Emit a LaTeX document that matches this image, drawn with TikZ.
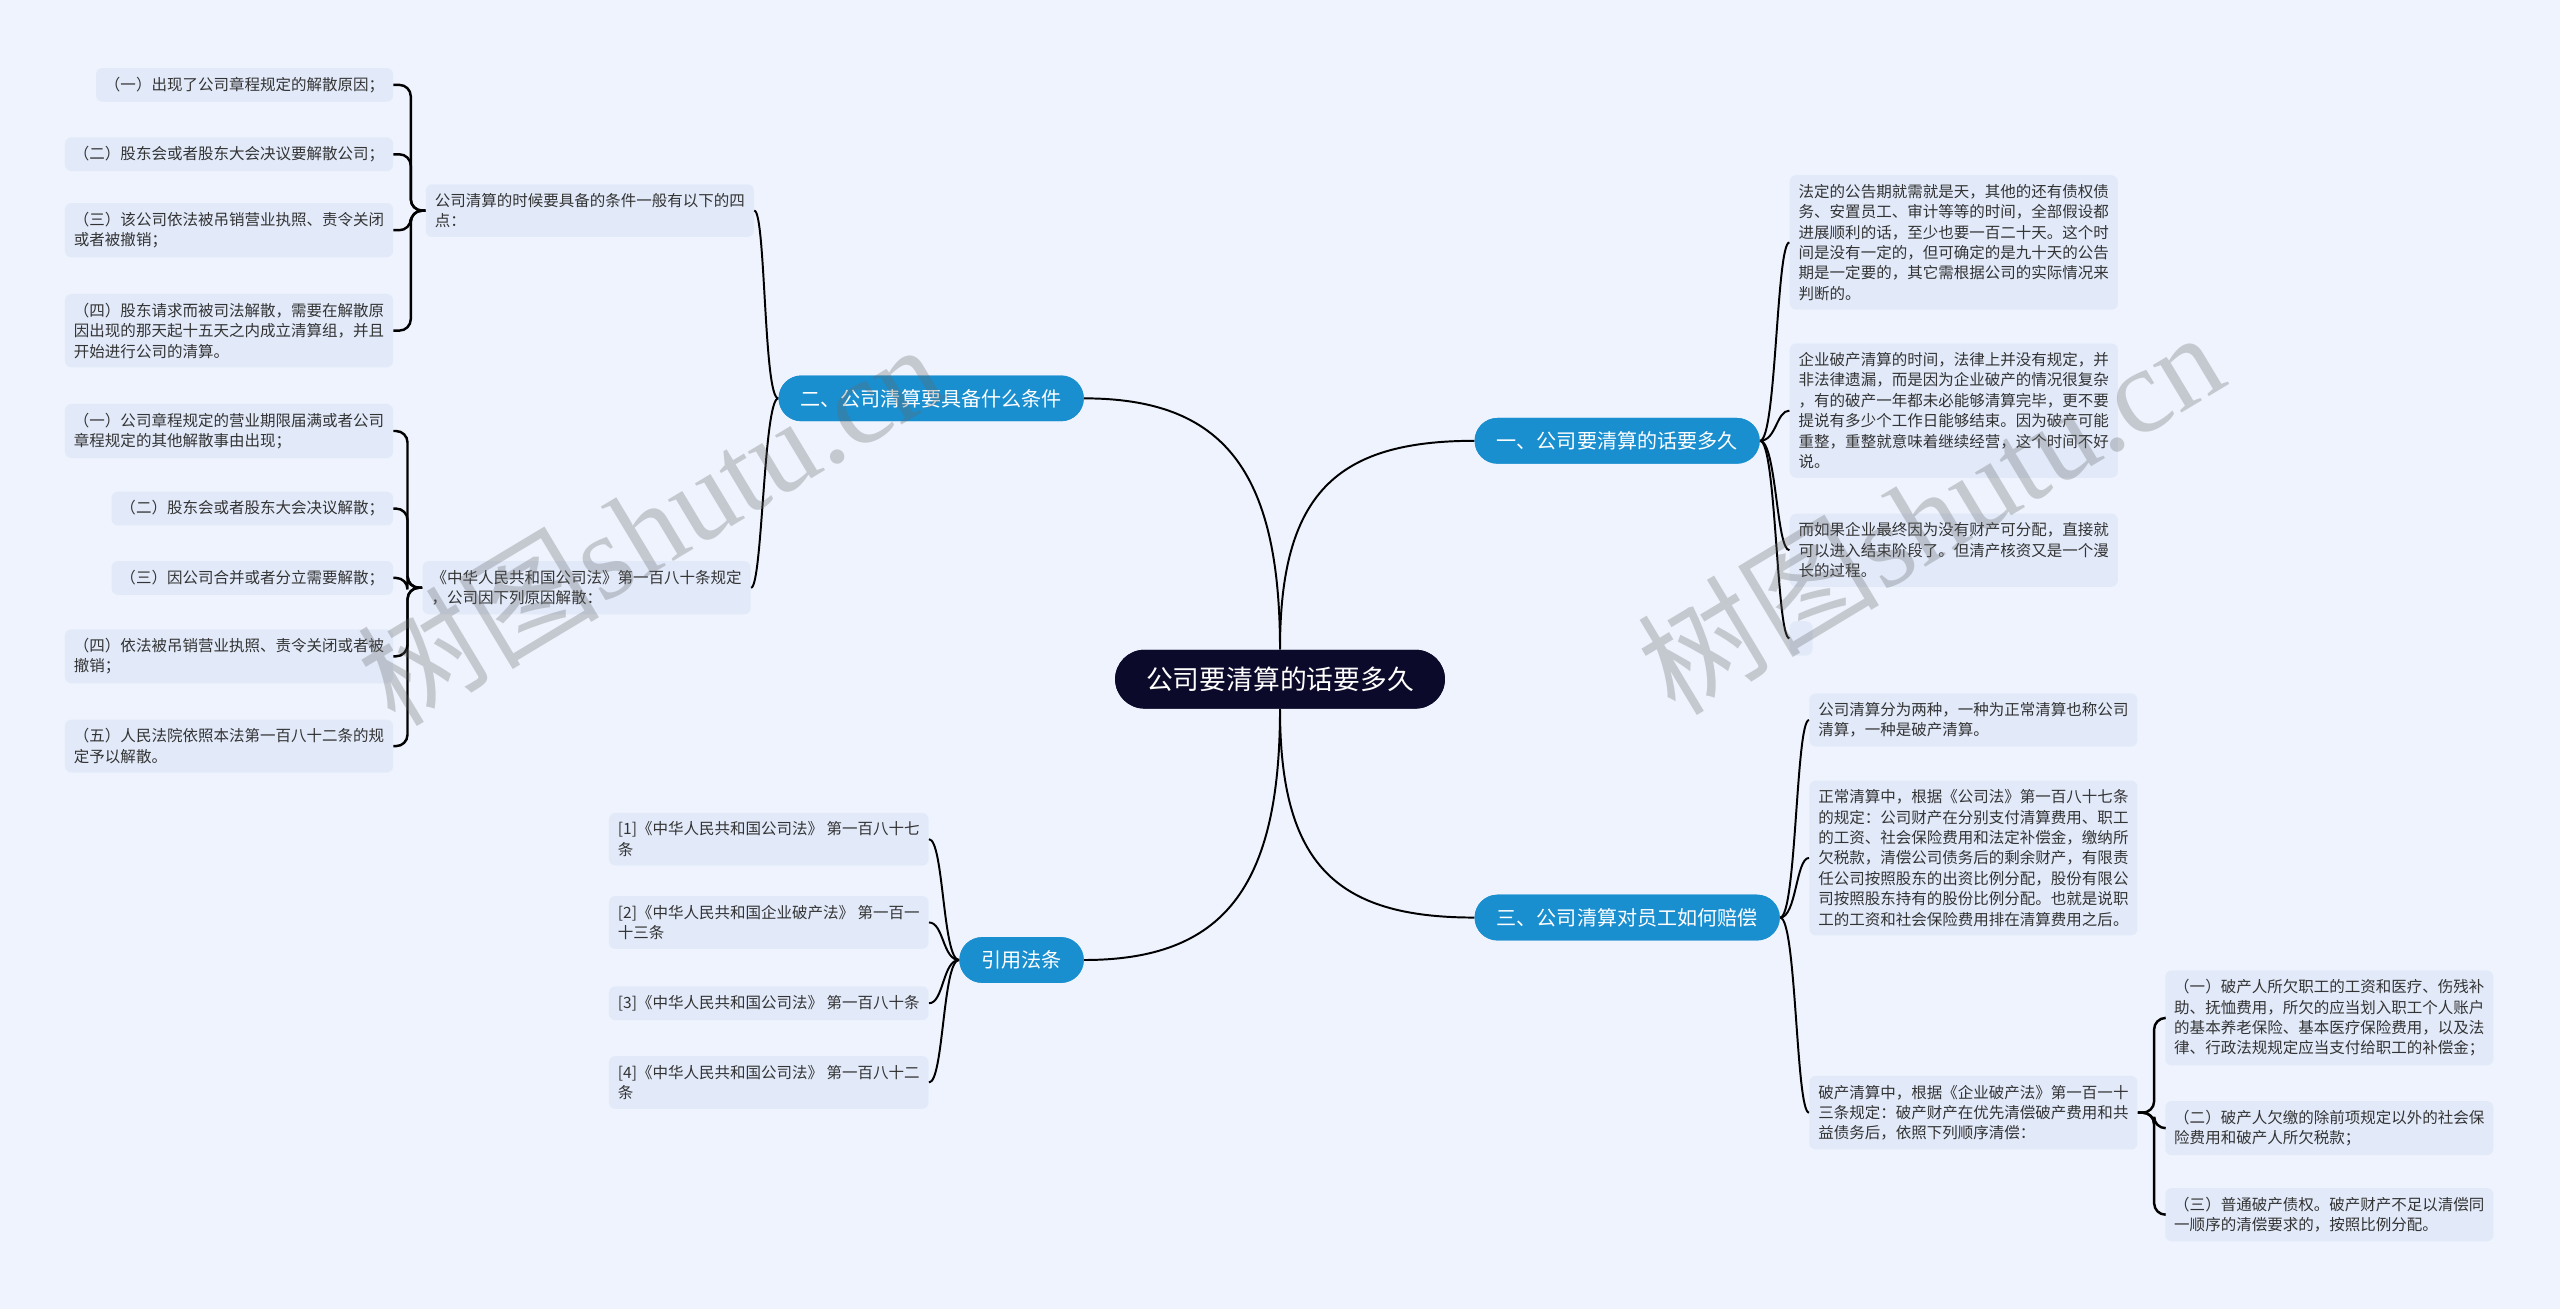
\documentclass[tikz,border=0pt]{standalone}
\usepackage{fontspec}
\newfontfamily\cjk{Noto Sans CJK SC}
\newfontfamily\wmserif{Liberation Serif}
\definecolor{bgc}{RGB}{238,243,253}
\definecolor{boxc}{RGB}{226,234,250}
\definecolor{bluec}{RGB}{26,143,208}
\definecolor{rootc}{RGB}{12,10,42}
\definecolor{txtc}{RGB}{51,51,51}
\begin{document}
\begin{tikzpicture}[x=1pt,y=-1pt,
  leaf/.style={fill=boxc, rounded corners=4pt, inner xsep=5.5pt, inner ysep=5.5pt,
    font=\cjk\fontsize{9.5}{12.5}\selectfont, text=txtc, align=left},
  branch/.style={fill=bluec, rounded corners=14pt, text=white, inner xsep=13.5pt, inner ysep=0pt,
    minimum height=28pt, font=\cjk\fontsize{12.3}{14}\selectfont},
  root/.style={fill=rootc, rounded corners=18pt, text=white, inner xsep=19pt, inner ysep=0pt,
    minimum height=36pt, font=\cjk\fontsize{16.4}{18}\selectfont},
  conn/.style={draw=black, line width=1.2pt},
  brk/.style={draw=black, line width=1.5pt, rounded corners=7pt},
  wm/.style={text=black!60, text opacity=0.3, rotate=31, inner sep=0pt}
]
\fill[bgc] (0,0) rectangle (1568,802);
\useasboundingbox (0,0) rectangle (1568,802);

% root and branches
\node[root] (root) at (784,416) {公司要清算的话要多久};
\node[branch, anchor=west] (B1) at (903,270) {一、公司要清算的话要多久};
\node[branch, anchor=east] (B2) at (664,244) {二、公司清算要具备什么条件};
\node[branch, anchor=west] (B3) at (903,562) {三、公司清算对员工如何赔偿};
\node[branch, anchor=east] (B4) at (664,588) {引用法条};

% branch 1 children
\node[leaf, anchor=west] (A1) at (1096,148.5) {法定的公告期就需就是天，其他的还有债权债\\务、安置员工、审计等等的时间，全部假设都\\进展顺利的话，至少也要一百二十天。这个时\\间是没有一定的，但可确定的是九十天的公告\\期是一定要的，其它需根据公司的实际情况来\\判断的。};
\node[leaf, anchor=west] (A2) at (1096,251.5) {企业破产清算的时间，法律上并没有规定，并\\非法律遗漏，而是因为企业破产的情况很复杂\\，有的破产一年都未必能够清算完毕，更不要\\提说有多少个工作日能够结束。因为破产可能\\重整，重整就意味着继续经营，这个时间不好\\说。};
\node[leaf, anchor=west] (A3) at (1096,337) {而如果企业最终因为没有财产可分配，直接就\\可以进入结束阶段了。但清产核资又是一个漫\\长的过程。};
\node[leaf, anchor=west, minimum width=14pt, minimum height=21pt, inner sep=0pt] (A4) at (1096,391) {};

% branch 2 children
\node[leaf, anchor=east] (M1) at (462,129) {公司清算的时候要具备的条件一般有以下的四\\点：};
\node[leaf, anchor=east] (M2) at (460,360) {《中华人民共和国公司法》第一百八十条规定\\，公司因下列原因解散：};
\node[leaf, anchor=east] (L1) at (241,52) {（一）出现了公司章程规定的解散原因；};
\node[leaf, anchor=east] (L2) at (241,94.5) {（二）股东会或者股东大会决议要解散公司；};
\node[leaf, anchor=east] (L3) at (241,141) {（三）该公司依法被吊销营业执照、责令关闭\\或者被撤销；};
\node[leaf, anchor=east] (L4) at (241,202.5) {（四）股东请求而被司法解散，需要在解散原\\因出现的那天起十五天之内成立清算组，并且\\开始进行公司的清算。};
\node[leaf, anchor=east] (K1) at (241,264) {（一）公司章程规定的营业期限届满或者公司\\章程规定的其他解散事由出现；};
\node[leaf, anchor=east] (K2) at (241,311.5) {（二）股东会或者股东大会决议解散；};
\node[leaf, anchor=east] (K3) at (241,354) {（三）因公司合并或者分立需要解散；};
\node[leaf, anchor=east] (K4) at (241,402) {（四）依法被吊销营业执照、责令关闭或者被\\撤销；};
\node[leaf, anchor=east] (K5) at (241,457) {（五）人民法院依照本法第一百八十二条的规\\定予以解散。};

% branch 4 children
\node[leaf, anchor=east] (R1) at (569,514) {[1]《中华人民共和国公司法》 第一百八十七\\条};
\node[leaf, anchor=east] (R2) at (569,565) {[2]《中华人民共和国企业破产法》 第一百一\\十三条};
\node[leaf, anchor=east] (R3) at (569,614.5) {[3]《中华人民共和国公司法》 第一百八十条};
\node[leaf, anchor=east] (R4) at (569,663) {[4]《中华人民共和国公司法》 第一百八十二\\条};

% branch 3 children
\node[leaf, anchor=west] (S1) at (1108,441) {公司清算分为两种，一种为正常清算也称公司\\清算，一种是破产清算。};
\node[leaf, anchor=west] (S2) at (1108,525.5) {正常清算中，根据《公司法》第一百八十七条\\的规定：公司财产在分别支付清算费用、职工\\的工资、社会保险费用和法定补偿金，缴纳所\\欠税款，清偿公司债务后的剩余财产，有限责\\任公司按照股东的出资比例分配，股份有限公\\司按照股东持有的股份比例分配。也就是说职\\工的工资和社会保险费用排在清算费用之后。};
\node[leaf, anchor=west] (S3) at (1108,681.5) {破产清算中，根据《企业破产法》第一百一十\\三条规定：破产财产在优先清偿破产费用和共\\益债务后，依照下列顺序清偿：};
\node[leaf, anchor=west] (T1) at (1326,623.5) {（一）破产人所欠职工的工资和医疗、伤残补\\助、抚恤费用，所欠的应当划入职工个人账户\\的基本养老保险、基本医疗保险费用，以及法\\律、行政法规规定应当支付给职工的补偿金；};
\node[leaf, anchor=west] (T2) at (1326,691) {（二）破产人欠缴的除前项规定以外的社会保\\险费用和破产人所欠税款；};
\node[leaf, anchor=west] (T3) at (1326,744) {（三）普通破产债权。破产财产不足以清偿同\\一顺序的清偿要求的，按照比例分配。};

% connectors: root to branches
\draw[conn] (root.north) .. controls +(0,-95) and +(-85,0) .. (B1.west);
\draw[conn] (root.north) .. controls +(0,-110) and +(85,0) .. (B2.east);
\draw[conn] (root.south) .. controls +(0,95) and +(-85,0) .. (B3.west);
\draw[conn] (root.south) .. controls +(0,110) and +(85,0) .. (B4.east);

% branch to children
\foreach \c in {A1,A2,A3,A4}
  \draw[conn] (B1.east) .. controls +(10,0) and +(-8,0) .. (\c.west);
\foreach \c in {M1,M2}
  \draw[conn] (B2.west) .. controls +(-9,0) and +(7,0) .. (\c.east);
\foreach \c in {R1,R2,R3,R4}
  \draw[conn] (B4.west) .. controls +(-10,0) and +(9,0) .. (\c.east);
\foreach \c in {S1,S2,S3}
  \draw[conn] (B3.east) .. controls +(10,0) and +(-8,0) .. (\c.west);

% deeper brackets
\foreach \c in {L1,L2,L3,L4}
  \draw[brk] (M1.west) -- ++(-9,0) |- (\c.east);
\foreach \c in {K1,K2,K3,K4,K5}
  \draw[brk] (M2.west) -- ++(-9,0) |- (\c.east);
\foreach \c in {T1,T2,T3}
  \draw[brk] (S3.east) -- ++(10,0) |- (\c.west);

% redraw root and branches on top of curves
\node[root] at (root) {公司要清算的话要多久};
\node[branch] at (B1) {一、公司要清算的话要多久};
\node[branch] at (B2) {二、公司清算要具备什么条件};
\node[branch] at (B3) {三、公司清算对员工如何赔偿};
\node[branch] at (B4) {引用法条};

% watermark
\node[wm] (wm1) at (398,320) {\cjk\fontsize{74}{78}\selectfont 树图\wmserif shutu.cn};
\node[wm] (wm2) at (1182,313) {\cjk\fontsize{74}{78}\selectfont 树图\wmserif shutu.cn};
\end{tikzpicture}
\end{document}
